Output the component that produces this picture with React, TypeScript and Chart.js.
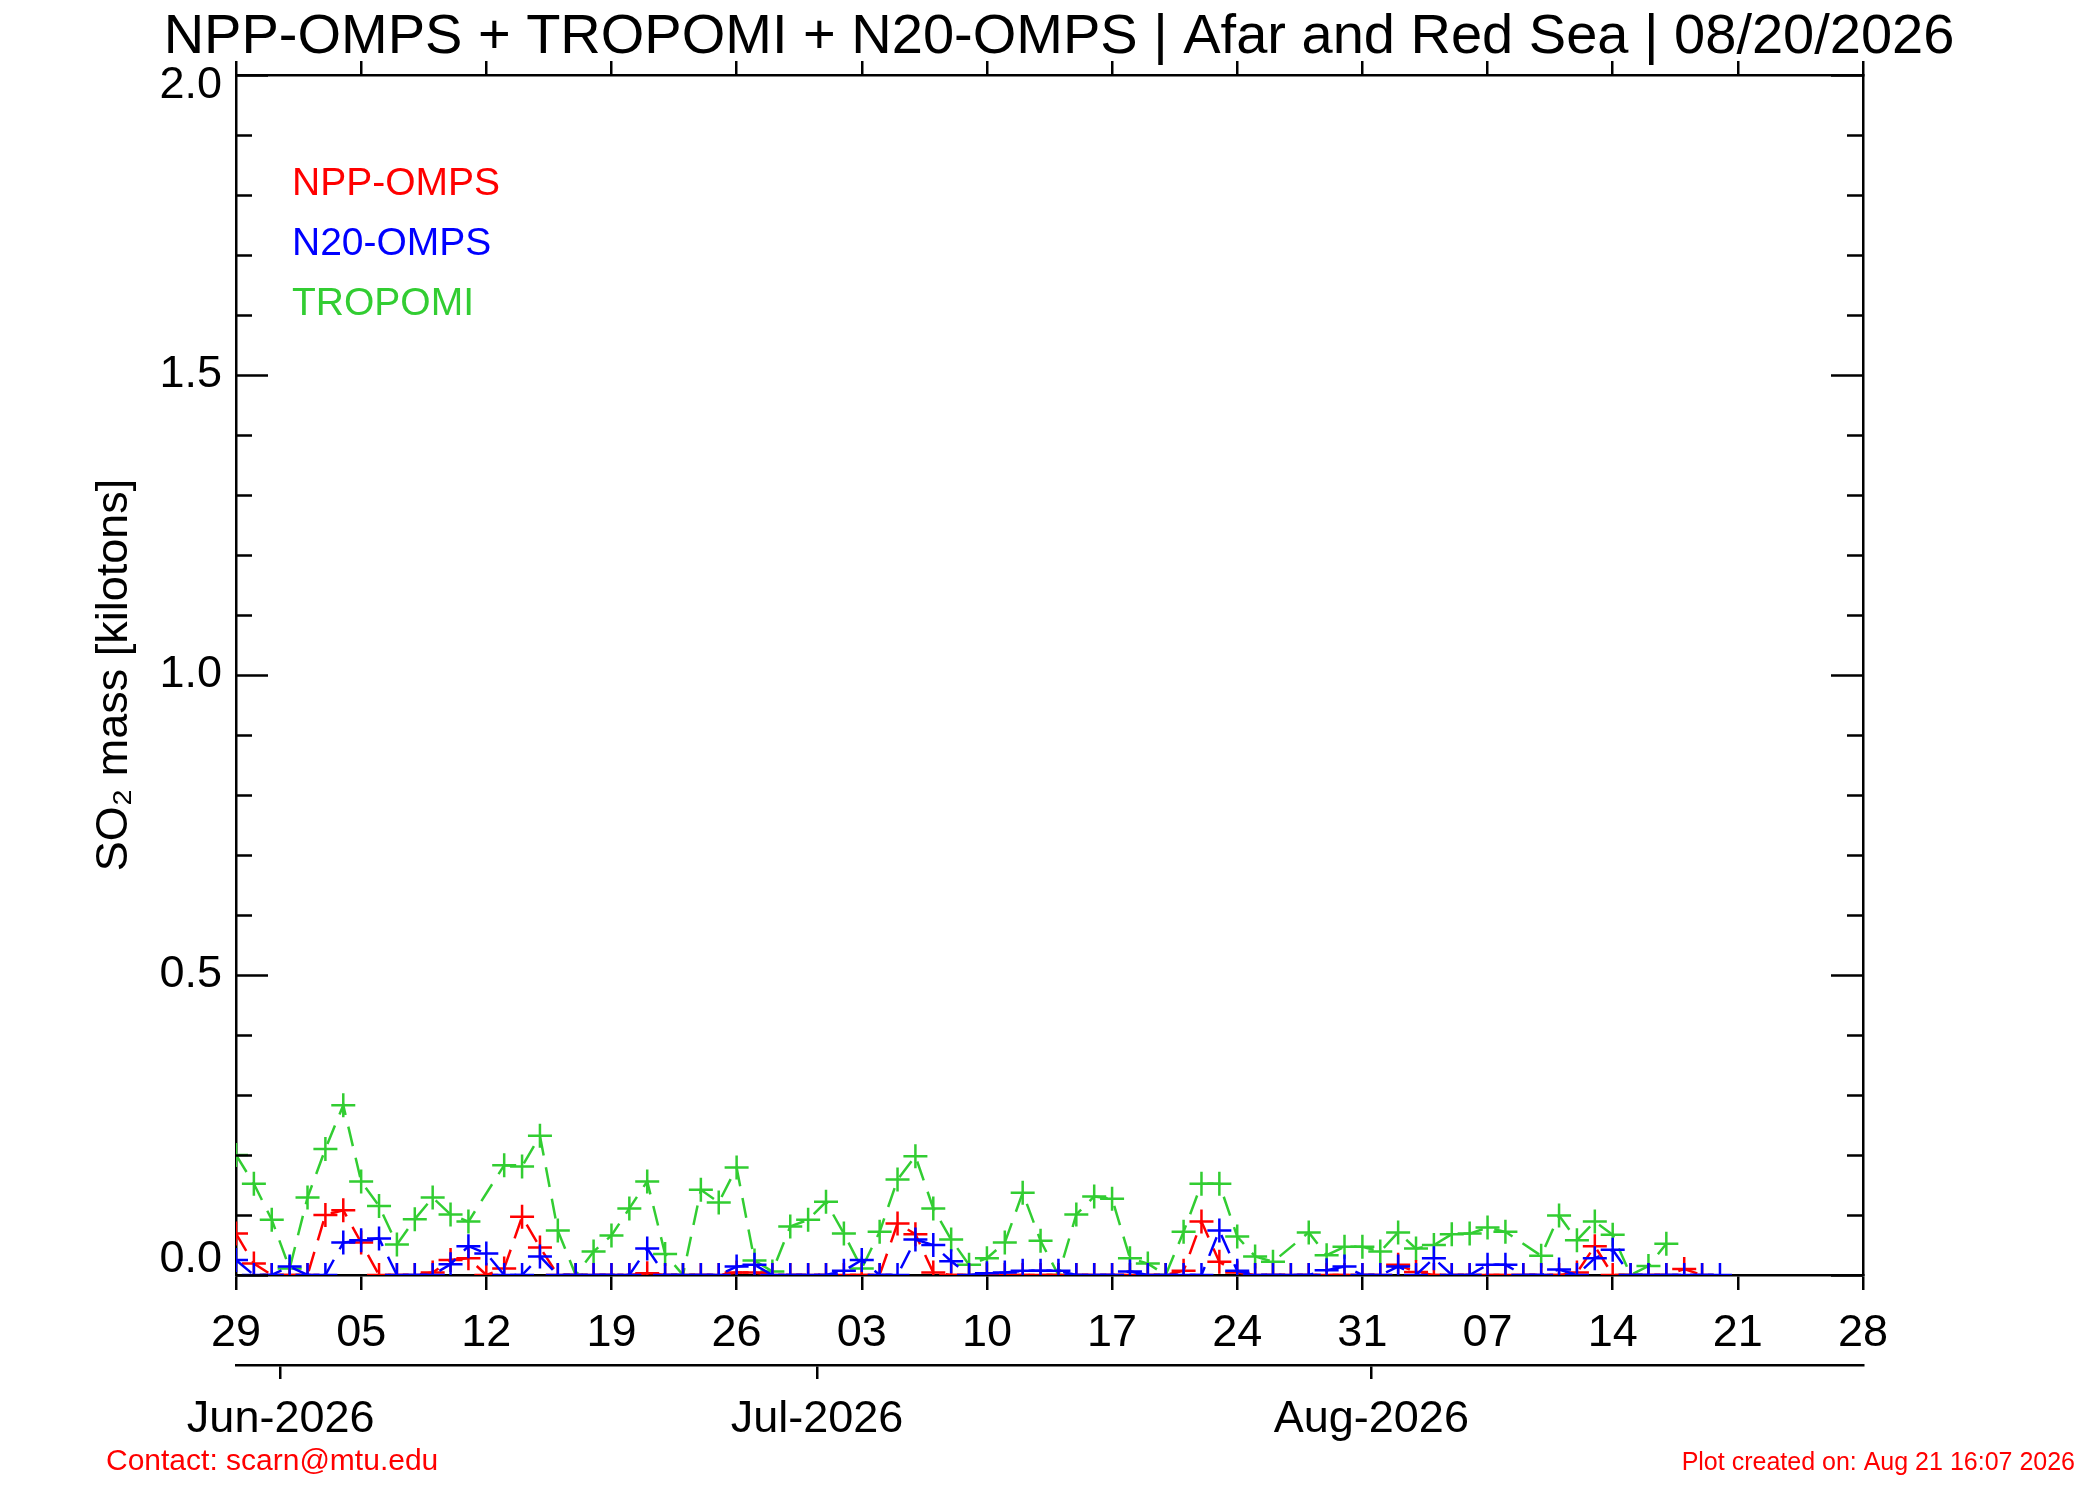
import React, { useEffect, useRef } from "react";
import { Chart, registerables } from "chart.js";

Chart.register(...registerables);

const titleText = "NPP-OMPS + TROPOMI + N20-OMPS | Afar and Red Sea | 08/20/2026";
const yTitleText = "SO\u2082 mass [kilotons]";
const contactText = "Contact: scarn@mtu.edu";
const createdText = "Plot created on: Aug 21 16:07 2026";

// x axis: days since May 29, 2026
const dayTickLabels = ["29", "05", "12", "19", "26", "03", "10", "17", "24", "31", "07", "14", "21", "28"];
const monthTickDays = [2.5, 32.5, 63.5];
const monthTickLabels = ["Jun-2026", "Jul-2026", "Aug-2026"];
const yTickValues = [0, 0.5, 1.0, 1.5, 2.0];
const yTickLabels = ["0.0", "0.5", "1.0", "1.5", "2.0"];

const seriesNames = ["NPP-OMPS", "N20-OMPS", "TROPOMI"];
const seriesColors = ["#ff0000", "#0000ff", "rgb(50,205,50)"];

// daily SO2 mass [kt], index = day since May 29 (null = no data)
const nppOmps: (number | null)[] = [
  0.069, 0.019, 0, 0, 0, 0.10, 0.108, 0.054, 0, 0,
  0, 0.004, 0.025, 0.028, 0, 0.011, 0.097, 0.046, 0, 0,
  0, 0, 0, 0.003, 0, 0, 0, 0, 0.004, 0.004,
  0, 0, 0, 0, 0, 0, 0, 0.086, 0.068, 0.004,
  0, 0, 0, 0, 0, 0, 0, 0, 0, 0,
  0, 0, 0, 0.007, 0.089, 0.022, 0.004, 0, 0, 0,
  0, 0, 0, 0, 0, 0.017, 0.005, 0, 0, 0,
  0, 0, 0, 0, 0, 0.004, 0.048, 0, 0, 0,
  0, 0.01, 0,
];

const n20Omps: (number | null)[] = [
  0.025, 0, 0, 0.014, 0, 0, 0.054, 0.058, 0.061, 0,
  0, 0, 0.018, 0.048, 0.036, 0, 0, 0.031, 0, 0,
  0, 0, 0, 0.044, 0, 0, 0, 0, 0.014, 0.017,
  0, 0, 0, 0, 0.007, 0.025, 0, 0, 0.059, 0.05,
  0.023, 0, 0.003, 0.004, 0.007, 0.007, 0.007, 0, 0, 0,
  0.006, 0, 0, 0, 0, 0.074, 0.007, 0, 0, 0,
  0, 0.008, 0.014, 0, 0, 0.014, 0, 0.028, 0, 0,
  0.017, 0.017, 0, 0, 0.009, 0, 0.028, 0.042, 0, 0,
  0, 0, 0, 0,
];

const tropomi: (number | null)[] = [
  0.20, 0.152, 0.092, 0.011, 0.129, 0.21, 0.283, 0.156, 0.115, 0.051,
  0.093, 0.129, 0.101, 0.089, null, 0.183, 0.181, 0.232, 0.074, 0,
  0.039, 0.066, 0.111, 0.156, 0.035, 0, 0.142, 0.121, 0.179, 0.024,
  0.006, 0.081, 0.092, 0.122, 0.069, 0.011, 0.072, 0.159, 0.198, 0.111,
  0.059, 0.017, 0.028, 0.054, 0.137, 0.057, 0, 0.101, 0.131, 0.127,
  0.028, 0.019, 0, 0.072, 0.152, 0.152, 0.064, 0.031, 0.022, null,
  0.071, 0.033, 0.047, 0.047, 0.039, 0.071, 0.044, 0.05, 0.068, 0.069,
  0.079, 0.072, null, 0.032, 0.099, 0.058, 0.089, 0.067, 0, 0.015,
  0.052,
];

const FONT = "'Liberation Sans', Arial, Helvetica, sans-serif";

function toPoints(arr: (number | null)[]) {
  const pts: { x: number; y: number }[] = [];
  arr.forEach((v, i) => {
    if (v !== null && v !== undefined) pts.push({ x: i, y: v });
  });
  return pts;
}

const decorPlugin = {
  id: "idlDecor",
  afterDraw(chart: any) {
    const ctx = chart.ctx as CanvasRenderingContext2D;
    const area = chart.chartArea;
    const ys = chart.scales.y;
    ctx.save();
    // inward y ticks, left and right (major every 0.5, minor every 0.1)
    ctx.strokeStyle = "#000";
    ctx.lineWidth = 2.5;
    for (let k = 0; k <= 20; k++) {
      const py = Math.round(ys.getPixelForValue(k / 10)) + 0.5;
      const len = k % 5 === 0 ? 32 : 16;
      ctx.beginPath();
      ctx.moveTo(area.left, py);
      ctx.lineTo(area.left + len, py);
      ctx.moveTo(area.right, py);
      ctx.lineTo(area.right - len, py);
      ctx.stroke();
    }
    // y tick labels, kept inside the axis range like IDL does
    ctx.fillStyle = "#000";
    ctx.font = `45px ${FONT}`;
    ctx.textAlign = "right";
    ctx.textBaseline = "middle";
    yTickValues.forEach((v, i) => {
      const py = ys.getPixelForValue(v);
      const cy = Math.min(Math.max(py, area.top + 11), area.bottom - 15);
      ctx.fillText(yTickLabels[i], area.left - 14, cy);
    });
    // legend text inside plot
    ctx.font = `39px ${FONT}`;
    ctx.textAlign = "left";
    ctx.textBaseline = "alphabetic";
    chart.data.datasets.forEach((ds: any, i: number) => {
      ctx.fillStyle = ds.borderColor;
      ctx.fillText(ds.label, area.left + 56, area.top + 120 + i * 60);
    });
    // footers
    ctx.fillStyle = "#ff0000";
    ctx.font = `30px ${FONT}`;
    ctx.fillText(contactText, 106, 1470);
    ctx.font = `25px ${FONT}`;
    ctx.textAlign = "right";
    ctx.fillText(createdText, 2075, 1470);
    ctx.restore();
  },
};

export default function App() {
  const ref = useRef<HTMLCanvasElement | null>(null);

  useEffect(() => {
    if (!ref.current) return;
    const mk = (i: number, arr: (number | null)[], order: number) => ({
      label: seriesNames[i],
      data: toPoints(arr),
      borderColor: seriesColors[i],
      backgroundColor: seriesColors[i],
      borderWidth: 2.5,
      borderDash: [20, 12],
      pointStyle: "cross",
      pointRadius: 12,
      pointBorderWidth: 2.5,
      pointBorderColor: seriesColors[i],
      tension: 0,
      fill: false,
      spanGaps: true,
      clip: 0,
      order,
    });

    const xGrid = (len: number) => ({
      display: true,
      drawOnChartArea: false,
      drawTicks: true,
      tickLength: len,
      color: "#000",
      tickColor: "#000",
      lineWidth: 2.5,
      tickWidth: 2.5,
    });
    const border = { display: true, color: "#000", width: 2.5 };

    const chart = new Chart(ref.current, {
      type: "line",
      data: {
        datasets: [mk(0, nppOmps, 1), mk(1, n20Omps, 0), mk(2, tropomi, 2)] as any,
      },
      options: {
        animation: false,
        responsive: false,
        devicePixelRatio: 1,
        events: [],
        layout: { padding: { left: 58, right: 40, top: 0, bottom: 35 } },
        plugins: {
          legend: { display: false },
          tooltip: { enabled: false },
          title: {
            display: true,
            text: titleText,
            color: "#000",
            font: { family: FONT, size: 56, weight: "normal", lineHeight: 0.9 },
            padding: { top: 12.6, bottom: -2 },
          },
        },
        scales: {
          x: {
            type: "linear",
            position: "bottom",
            min: 0,
            max: 91,
            weight: 0,
            ticks: {
              stepSize: 7,
              autoSkip: false,
              maxRotation: 0,
              color: "#000",
              padding: 17,
              font: { family: FONT, size: 45 },
              callback: (_v: any, i: number) => dayTickLabels[i],
            },
            grid: xGrid(15),
            border,
            afterFit: (s: any) => {
              s.height = 90;
            },
          },
          xMonth: {
            type: "linear",
            position: "bottom",
            min: 0,
            max: 91,
            weight: 1,
            afterBuildTicks: (s: any) => {
              s.ticks = monthTickDays.map((v) => ({ value: v }));
            },
            ticks: {
              autoSkip: false,
              maxRotation: 0,
              color: "#000",
              padding: 14,
              font: { family: FONT, size: 45 },
              callback: (_v: any, i: number) => monthTickLabels[i],
            },
            grid: xGrid(14),
            border,
            afterFit: (s: any) => {
              s.height = 100;
            },
          },
          xTop: {
            type: "linear",
            position: "top",
            min: 0,
            max: 91,
            ticks: { display: false, stepSize: 7 },
            grid: xGrid(14),
            border,
            afterFit: (s: any) => {
              s.height = 14;
            },
          },
          y: {
            type: "linear",
            position: "left",
            min: 0,
            max: 2,
            ticks: { display: false, stepSize: 0.5 },
            grid: { display: true, drawOnChartArea: false, drawTicks: false, color: "#000" },
            border,
            title: {
              display: true,
              text: yTitleText,
              color: "#000",
              font: { family: FONT, size: 45, lineHeight: 1.2 },
              padding: { top: 30, bottom: 0 },
            },
            afterFit: (s: any) => {
              s.width = 178;
            },
          },
          yRight: {
            type: "linear",
            position: "right",
            min: 0,
            max: 2,
            ticks: { display: false },
            grid: { display: true, drawOnChartArea: false, drawTicks: false, color: "#000" },
            border,
            afterFit: (s: any) => {
              s.width = 197;
            },
          },
        },
      } as any,
      plugins: [decorPlugin],
    });
    return () => chart.destroy();
  }, []);

  return (
    <div style={{ position: "absolute", left: 0, top: 0, width: 2100, height: 1500, background: "#fff" }}>
      <canvas ref={ref} width={2100} height={1500} style={{ width: 2100, height: 1500, display: "block" }} />
    </div>
  );
}
